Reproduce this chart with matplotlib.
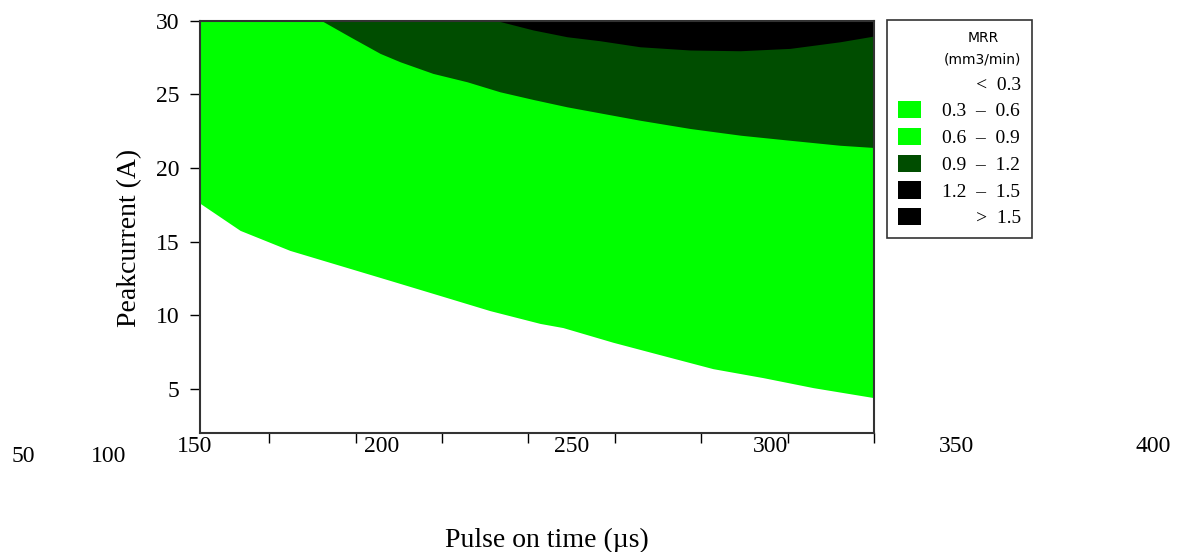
import matplotlib.pyplot as plt
from matplotlib.patches import Patch
from matplotlib.ticker import MultipleLocator, NullFormatter

plt.rcParams['font.family'] = ['Liberation Serif', 'DejaVu Serif']

# MRR = 0.3 contour (white / green edge)
pulse_03 = [155, 166.6, 181.0, 195.5, 210.0, 224.4, 238.9, 253.4, 260.0,
            274.5, 289.0, 303.4, 317.9, 332.4, 350.0]
peak_03 = [17.6, 15.76, 14.4, 13.38, 12.36, 11.34, 10.31, 9.44, 9.16,
           8.16, 7.26, 6.37, 5.76, 5.08, 4.4]

# MRR = 0.9 contour (green / dark green edge)
pulse_09 = [190.2, 198.4, 207.1, 212.9, 222.4, 232.3, 241.8, 251.4, 261.2,
            270.7, 282.3, 296.8, 311.5, 325.7, 340.2, 350.0]
peak_09 = [30.0, 28.91, 27.78, 27.21, 26.42, 25.85, 25.17, 24.65, 24.15,
           23.74, 23.24, 22.68, 22.22, 21.88, 21.54, 21.39]

# MRR = 1.2 contour (dark green / black edge)
pulse_12 = [240.9, 251.4, 261.2, 270.7, 282.3, 296.8, 311.3, 325.7, 340.2, 350.0]
peak_12 = [30.0, 29.37, 28.91, 28.64, 28.23, 28.01, 27.96, 28.12, 28.57, 28.96]

legend_labels = ['       <  0.3', '0.3  \u2013  0.6', '0.6  \u2013  0.9',
                 '0.9  \u2013  1.2', '1.2  \u2013  1.5', '       >  1.5']
legend_colors = ['none', '#00ff00', '#00ff00', '#004d00', '#000000', '#000000']

# the printed axis numbers do not sit on the ticks in the source figure
x_labels = ['50', '100', '150', '200', '250', '300', '350', '400']
x_label_px = [23, 109, 195, 382, 572, 770, 957, 1153]
x_label_py = [457, 457, 446, 446, 446, 446, 446, 446]

W, H = 1186, 552
fig = plt.figure(figsize=(W / 100, H / 100), dpi=100)
ax = fig.add_axes([200 / W, 1 - 433 / H, 674 / W, 412.3 / H])

ax.fill_between(pulse_03, peak_03, 30, color='#00ff00', lw=0)
ax.fill_between(pulse_09, peak_09, 30, color='#004d00', lw=0)
ax.fill_between(pulse_12, peak_12, 30, color='#000000', lw=0)

ax.set_xlim(155, 350)
ax.set_ylim(2, 30)
ax.xaxis.set_major_locator(MultipleLocator(25))
ax.xaxis.set_major_formatter(NullFormatter())
ax.yaxis.set_major_locator(MultipleLocator(5))
ax.tick_params(axis='y', labelsize=17, length=7, width=1, pad=8)
ax.tick_params(axis='x', length=7, width=1)
for s in ax.spines.values():
    s.set_linewidth(1.5)
    s.set_color('#333333')

for lab, px, py in zip(x_labels, x_label_px, x_label_py):
    fig.text(px / W, 1 - py / H, lab, ha='center', va='center', fontsize=17)

ax.set_ylabel('Peakcurrent (A)', fontsize=20)
ax.yaxis.set_label_coords(-0.086, 0.474)
fig.text(547 / W, 1 - 540 / H, 'Pulse on time (\u00b5s)', ha='center', va='center', fontsize=20)

handles = [Patch(facecolor=c, edgecolor='none') for c in legend_colors]
leg = ax.legend(handles, legend_labels, loc='upper left',
                bbox_to_anchor=(887 / W, 1 - 20 / H), bbox_transform=fig.transFigure,
                borderaxespad=0, fancybox=False, edgecolor='#333333', framealpha=1,
                title='MRR\n(mm3/min)', title_fontproperties={'family': 'DejaVu Sans', 'size': 10},
                prop={'size': 14}, handlelength=1.2, handleheight=1.0,
                labelspacing=0.38, handletextpad=1.1, borderpad=0.55,
                alignment='right')
leg.get_frame().set_linewidth(1.2)
leg.get_title().set_multialignment('center')
leg.get_title().set_linespacing(1.75)

fig.savefig('out.png', dpi=100)
